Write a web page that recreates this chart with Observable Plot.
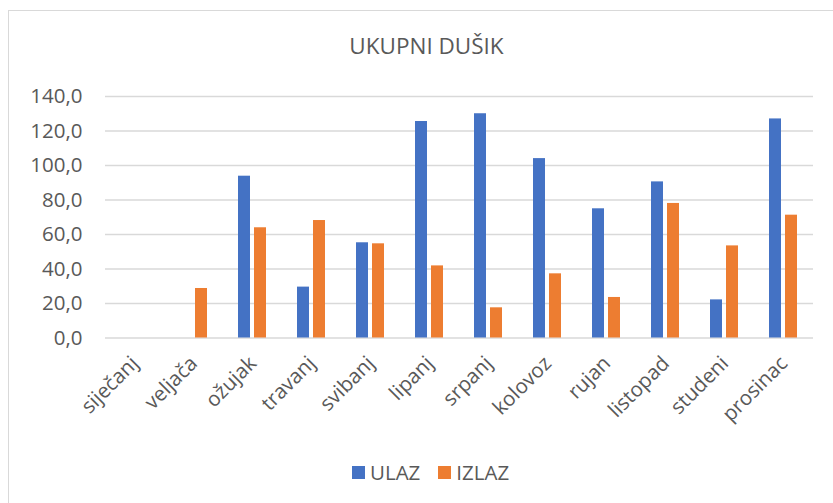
<!DOCTYPE html>
<html>
<head>
<meta charset="utf-8">
<script src="https://cdn.jsdelivr.net/npm/d3@7"></script>
<script src="https://cdn.jsdelivr.net/npm/@observablehq/plot@0.6"></script>
<style>
  html, body { margin: 0; padding: 0; background: #fff; }
  body { width: 833px; height: 503px; overflow: hidden; position: relative; font-family: "Open Sans", sans-serif; }
  #frame { position: absolute; left: 8px; top: 10px; width: 900px; height: 600px; border: 1.5px solid #d9d9d9; box-sizing: border-box; }
  #title { position: absolute; left: 0; width: 853px; top: 31px; text-align: center; font-size: 22.5px; line-height: 30px; color: #595959; }
  #chart { position: absolute; left: 0; top: 60px; }
  #legend { position: absolute; top: 458px; left: 352px; display: flex; align-items: center; font-size: 20.5px; color: #595959; line-height: 28px; }
  #legend .item { display: flex; align-items: center; margin-right: 18px; }
  #legend .sw { width: 13px; height: 13px; margin-right: 5px; }
</style>
</head>
<body>
<div id="frame"></div>
<div id="title">UKUPNI DUŠIK</div>
<div id="chart"></div>
<div id="legend"></div>
<script>
const months = ["siječanj","veljača","ožujak","travanj","svibanj","lipanj","srpanj","kolovoz","rujan","listopad","studeni","prosinac"];
const series = ["ULAZ","IZLAZ"];
const colors = ["#4472C4","#ED7D31"];
const ulaz = [0, 0, 93.8, 29.5, 55.2, 125.5, 130.0, 104.0, 74.9, 90.5, 22.1, 127.0];
const izlaz = [0, 28.7, 63.9, 68.1, 54.6, 41.8, 17.5, 37.2, 23.5, 78.0, 53.4, 71.2];
const yTicks = [0, 20, 40, 60, 80, 100, 120, 140];

const rows = [];
months.forEach((m, i) => {
  rows.push({month: m, series: series[0], value: ulaz[i]});
  rows.push({month: m, series: series[1], value: izlaz[i]});
});

const chart = Plot.plot({
  width: 833,
  height: 390,
  marginLeft: 103,
  marginRight: 18,
  marginTop: 36,
  marginBottom: 112.5,
  style: {fontFamily: "Open Sans", fontSize: "20.5px", color: "#595959", background: "transparent"},
  fx: {domain: months, padding: 0, label: null, tickSize: 0, tickRotate: -45, tickPadding: 22},
  x: {domain: series, paddingInner: 0.22, paddingOuter: 0.855, axis: null},
  y: {domain: [0, 140], ticks: yTicks, tickFormat: d => d.toFixed(1).replace(".", ","), tickSize: 0, tickPadding: 23, label: null},
  color: {domain: series, range: colors},
  marks: [
    Plot.ruleY(yTicks, {stroke: "#d9d9d9", strokeWidth: 1.5}),
    Plot.barY(rows, {fx: "month", x: "series", y: "value", fill: "series"})
  ]
});
document.getElementById("chart").appendChild(chart);

const legend = document.getElementById("legend");
series.forEach((s, i) => {
  const item = document.createElement("div");
  item.className = "item";
  const sw = document.createElement("div");
  sw.className = "sw";
  sw.style.background = colors[i];
  const t = document.createElement("span");
  t.textContent = s;
  item.appendChild(sw);
  item.appendChild(t);
  legend.appendChild(item);
});
</script>
</body>
</html>
